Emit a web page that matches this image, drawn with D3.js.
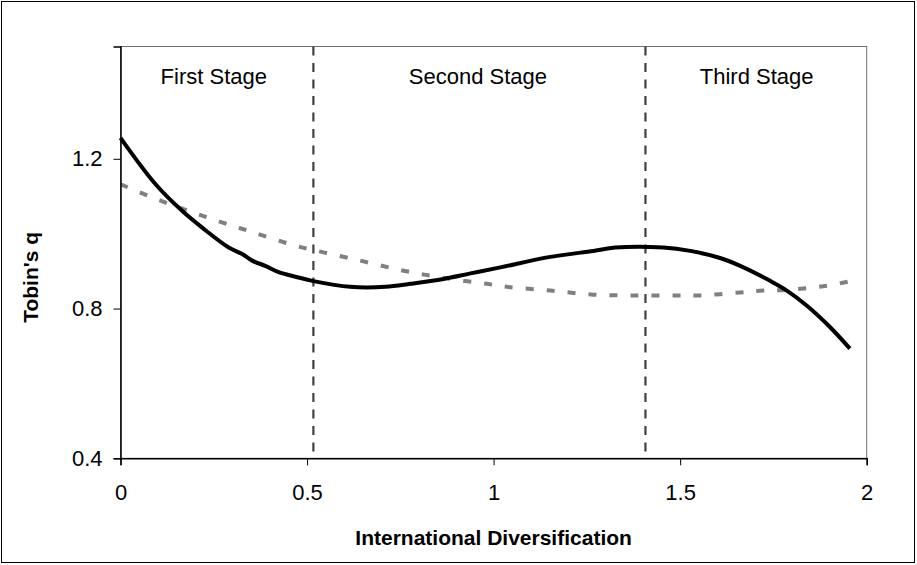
<!DOCTYPE html>
<html>
<head>
<meta charset="utf-8">
<script src="https://cdn.jsdelivr.net/npm/d3@7"></script>
<style>
  html, body { margin: 0; padding: 0; background: #fff; }
  svg { display: block; }
  text { font-family: "Liberation Sans", Arial, sans-serif; fill: #000; }
</style>
</head>
<body>
<svg id="chart" width="917" height="565"></svg>
<script>
// ---- data ----
const xTicks = [0, 0.5, 1, 1.5, 2];
const yTicks = [0.4, 0.8, 1.2];
const xDomain = [0, 2];
const yDomain = [0.4, 1.5];
const stageNames = ["First Stage", "Second Stage", "Third Stage"];
const stageCenters = [0.25, 0.958, 1.705];
const stageLabelLevel = 1.4;
const stageBoundaries = [0.517, 1.407];
const boundaryRange = [0.418, 1.5];

const solidX = [0, 0.094, 0.165, 0.219, 0.29, 0.326, 0.353, 0.388, 0.424, 0.469, 0.514, 0.616, 0.71, 0.777, 0.866, 0.938, 1.018, 1.152, 1.268, 1.326, 1.455, 1.527, 1.607, 1.661, 1.741, 1.786, 1.839, 1.902, 1.955];
const solidY = [1.256, 1.132, 1.061, 1.016, 0.963, 0.946, 0.928, 0.914, 0.897, 0.885, 0.874, 0.858, 0.858, 0.866, 0.879, 0.894, 0.91, 0.938, 0.954, 0.963, 0.963, 0.954, 0.935, 0.914, 0.874, 0.848, 0.808, 0.75, 0.693];

const dashX = [0, 0.121, 0.246, 0.357, 0.469, 0.527, 0.643, 0.759, 0.866, 0.982, 1.036, 1.152, 1.268, 1.384, 1.491, 1.554, 1.661, 1.723, 1.786, 1.893, 1.951];
const dashY = [1.132, 1.083, 1.039, 1.003, 0.968, 0.954, 0.928, 0.901, 0.882, 0.866, 0.858, 0.848, 0.837, 0.835, 0.835, 0.835, 0.843, 0.848, 0.85, 0.861, 0.872];

const xTitle = "International Diversification";
const yTitle = "Tobin's q";

// ---- layout ----
const svg = d3.select("#chart");
const W = 917, H = 565;
const plot = { left: 120.5, right: 866.7, top: 46.5, bottom: 458.3 };

svg.append("rect").attr("x", 1.5).attr("y", 1.5).attr("width", W - 4).attr("height", H - 4)
  .attr("fill", "#fff").attr("stroke", "#000").attr("stroke-width", 1);

const x = d3.scaleLinear().domain(xDomain).range([plot.left, plot.right]);
const y = d3.scaleLinear().domain(yDomain).range([plot.bottom, plot.top]);

// plot area frame (top/right gray)
svg.append("rect").attr("x", plot.left).attr("y", plot.top)
  .attr("width", plot.right - plot.left).attr("height", plot.bottom - plot.top)
  .attr("fill", "none").attr("stroke", "#707070").attr("stroke-width", 1);

// stage boundaries
svg.append("g").selectAll("line").data(stageBoundaries).join("line")
  .attr("x1", d => x(d)).attr("x2", d => x(d))
  .attr("y1", y(boundaryRange[1])).attr("y2", y(boundaryRange[0]))
  .attr("stroke", "#404040").attr("stroke-width", 2.2).attr("stroke-dasharray", "9,7.5");

// stage labels
svg.append("g").selectAll("text").data(stageNames).join("text")
  .attr("x", (d, i) => x(stageCenters[i])).attr("y", y(stageLabelLevel))
  .attr("text-anchor", "middle").attr("font-size", 22).text(d => d);

// series
const line = d3.line().x(d => x(d[0])).y(d => y(d[1])).curve(d3.curveCatmullRom.alpha(0.5));
svg.append("path").datum(dashX.map((v, i) => [v, dashY[i]]))
  .attr("d", line).attr("fill", "none").attr("stroke", "#808080")
  .attr("stroke-width", 4).attr("stroke-dasharray", "8,13");
svg.append("path").datum(solidX.map((v, i) => [v, solidY[i]]))
  .attr("d", line).attr("fill", "none").attr("stroke", "#000")
  .attr("stroke-width", 4).attr("stroke-linejoin", "round");

// axes
const xAxis = d3.axisBottom(x).tickValues(xTicks).tickSize(7).tickPadding(19)
  .tickFormat(d3.format("~g"));
const gx = svg.append("g").attr("transform", `translate(0,${plot.bottom})`).call(xAxis);
gx.select(".domain").attr("stroke", "#000").attr("stroke-width", 1.5);
gx.selectAll(".tick line").attr("stroke", "#000");
gx.selectAll("text").attr("font-size", 22).attr("font-family", "Liberation Sans, Arial, sans-serif");

const yAxis = d3.axisLeft(y).tickValues(yTicks).tickSize(7).tickPadding(11)
  .tickFormat(d3.format(".1f"));
const gy = svg.append("g").attr("transform", `translate(${plot.left},0)`).call(yAxis);
gy.select(".domain").attr("stroke", "#000").attr("stroke-width", 1.5);
gy.selectAll(".tick line").attr("stroke", "#000");
gy.selectAll("text").attr("font-size", 22).attr("font-family", "Liberation Sans, Arial, sans-serif");

// titles
svg.append("text").attr("x", (plot.left + plot.right) / 2).attr("y", 545)
  .attr("text-anchor", "middle").attr("font-size", 21).attr("font-weight", "bold").text(xTitle);
svg.append("text").attr("transform", `translate(38,${(plot.top + plot.bottom) / 2 + 25}) rotate(-90)`)
  .attr("text-anchor", "middle").attr("font-size", 21).attr("font-weight", "bold").text(yTitle);
</script>
</body>
</html>
